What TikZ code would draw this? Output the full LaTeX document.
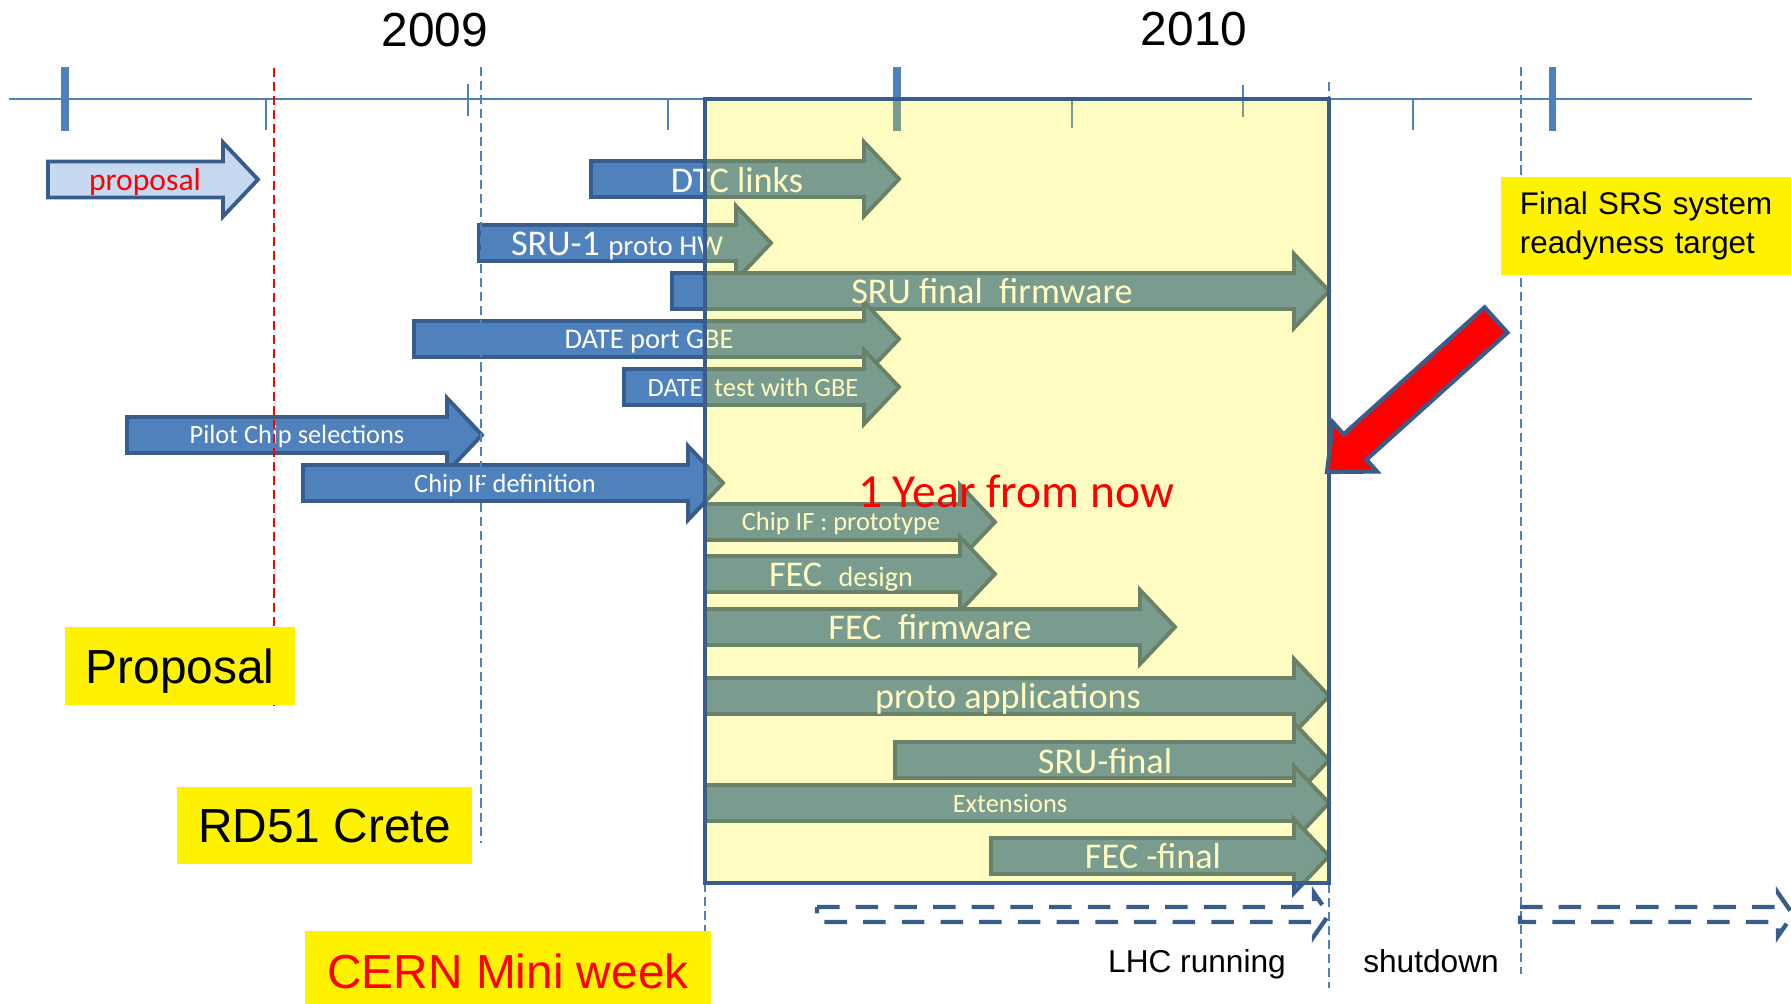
\documentclass[tikz,border=0pt]{standalone}
\usepackage{fontspec}
\setmainfont{Liberation Sans}
\newfontfamily\calib{Carlito}
\usetikzlibrary{positioning}
\definecolor{axisblue}{HTML}{4F81BD}
\definecolor{edgeblue}{HTML}{385D8A}
\definecolor{paleblue}{HTML}{C6D9F1}

\begin{document}
\begin{tikzpicture}[x=0.01cm, y=-0.01cm,
     task/.style = {fill=axisblue, draw=edgeblue, line width=1.1pt},% block arrows
     plan/.style = {draw=edgeblue, line width=1.25pt,
                    dash pattern=on 6.4pt off 4.6pt},% dashed arrows
    vline/.style = {draw=axisblue, line width=0.7pt,
                    dash pattern=on 2.6pt off 1.4pt},
  tasklbl/.style = {font=\calib\fontsize{10.3pt}{12pt}\selectfont,
                    text=white, anchor=base, inner sep=0pt},
 tasksmall/.style = {tasklbl, font=\calib\fontsize{7.5pt}{9pt}\selectfont},
milestone/.style = {fill=yellow, inner sep=0pt, text depth=0pt, text height=9.7pt,
                    font=\fontsize{13.6pt}{16pt}\selectfont},
    plain/.style = {anchor=base, inner sep=0pt},
                        ]
\clip (0,0) rectangle (1791,1003);
% time axis
\draw[axisblue, line width=0.85pt] (9,99) -- (1752,99);
\foreach \x in {65,897,1552}
    \draw[axisblue, line width=2pt] (\x,67) -- (\x,131);
\foreach \x/\ya/\yb in {266/99/130, 468/84/116, 668/99/130,
                        1072/99/128, 1243/85/117, 1413/99/130}
    \draw[axisblue, line width=0.6pt] (\x,\ya) -- (\x,\yb);
\node[plain, font=\fontsize{13.6pt}{16pt}\selectfont] (y2009) at (435,47) {2009};
\node[plain, font=\fontsize{13.6pt}{16pt}\selectfont] (y2010) at (1194,45) {2010};
% tasks
\draw[task, fill=paleblue] (48,161.5) -- (223,161.5) -- (223,142.5) -- (258,179.5)
    -- (223,216.5) -- (223,197.5) -- (48,197.5) -- cycle;
\foreach \xa/\xb/\yc in {591/899/179, 479/771/243, 672/1329/291, 414/899/339,
                         624/899/387, 127/482/435, 303/723/483, 705/995/522,
                         705/995/574, 705/1175/627, 705/1329/696, 895/1329/760,
                         705/1329/803, 991/1329/856}% <-- start, tip, middle
    \draw[task] (\xa,\yc-18) -- (\xb-35,\yc-18) -- (\xb-35,\yc-37) -- (\xb,\yc)
        -- (\xb-35,\yc+37) -- (\xb-35,\yc+18) -- (\xa,\yc+18) -- cycle;
\node[tasklbl, text=red, font=\calib\fontsize{9pt}{11pt}\selectfont] (prop) at (145,190) {proposal};
\node[tasklbl] (dtc) at (737,192) {DTC links};
\node[tasklbl] (sru1) at (617,255) {SRU-1 {\fontsize{8.2pt}{10pt}\selectfont proto HW}};
\node[tasklbl] (srufw) at (992,303) {SRU final\ \ firmware};
\node[tasklbl, font=\calib\fontsize{8.1pt}{10pt}\selectfont] (dateport) at (649,348) {DATE port GBE};
\node[tasksmall] (datetest) at (753,396) {DATE\ \ test with GBE};
\node[tasksmall] (pilot) at (297,443) {Pilot Chip selections};
\node[tasksmall] (chipdef) at (505,492) {Chip IF definition};
\node[tasksmall] (chipproto) at (841,530) {Chip IF : prototype};
\node[tasklbl] (fecdes) at (841,586) {FEC\ \ {\fontsize{8pt}{10pt}\selectfont design}};
\node[tasklbl] (fecfw) at (930,639) {FEC\ \ firmware};
\node[tasklbl] (protoapp) at (1008,708) {proto applications};
\node[tasklbl] (srufin) at (1105,773) {SRU-final};
\node[tasksmall] (ext) at (1010,812) {Extensions};
\node[tasklbl] (fecfin) at (1153,868) {FEC -final};
% milestones
\draw[vline, draw=red] (274,68) -- (274,706);
\draw[vline] (481,67) -- (481,843);
\draw[vline] (1329,82) -- (1329,988);
\draw[vline] (1521,67) -- (1521,974);
\draw[vline] (705,883) -- (705,931);
% one year window
\draw[draw=edgeblue, line width=1.2pt, fill=yellow, fill opacity=0.245]
    (705,99) rectangle (1329,883);
\node[plain, text=red, font=\calib\fontsize{13.5pt}{16pt}\selectfont] (oneyear) at (1016,507) {1 Year from now};
\node[milestone, minimum width=65.4pt, minimum height=22.2pt] (propm) at (180,666) {Proposal};
\node[milestone, minimum width=83.9pt, minimum height=21.9pt] (crete) at (324.5,825.5) {RD51 Crete};
\node[milestone, minimum width=115.5pt, minimum height=22.8pt, text=red] (cern) at (508,971) {CERN Mini week};
\node[fill=yellow, inner xsep=5.4pt, inner ysep=0pt, text width=77.1pt, align=left,
      minimum height=27.6pt, font=\fontsize{8.9pt}{11.1pt}\selectfont] (target) at (1655.5,226)
      {Final SRS system\\readyness target};
\draw[fill=red, draw=edgeblue, line width=1.2pt] (1484.6,307.4) -- (1343.6,434.4)
    -- (1333,422.5) -- (1327,472) -- (1377,471.5) -- (1366.4,459.6) -- (1507.4,332.6) -- cycle;
% LHC schedule
\foreach \xa/\xb in {817/1329, 1520/1793}
    \draw[plan] (\xa,907) -- (\xb-15,907) -- (\xb-15,893) -- (\xb,914.5)
        -- (\xb-15,936) -- (\xb-15,922) -- (\xa,922) -- cycle;
\node[plain, font=\fontsize{9pt}{11pt}\selectfont] (lhc) at (1197,972) {LHC running};
\node[plain, font=\fontsize{9pt}{11pt}\selectfont] (shut) at (1431,972) {shutdown};
\end{tikzpicture}
\end{document}
